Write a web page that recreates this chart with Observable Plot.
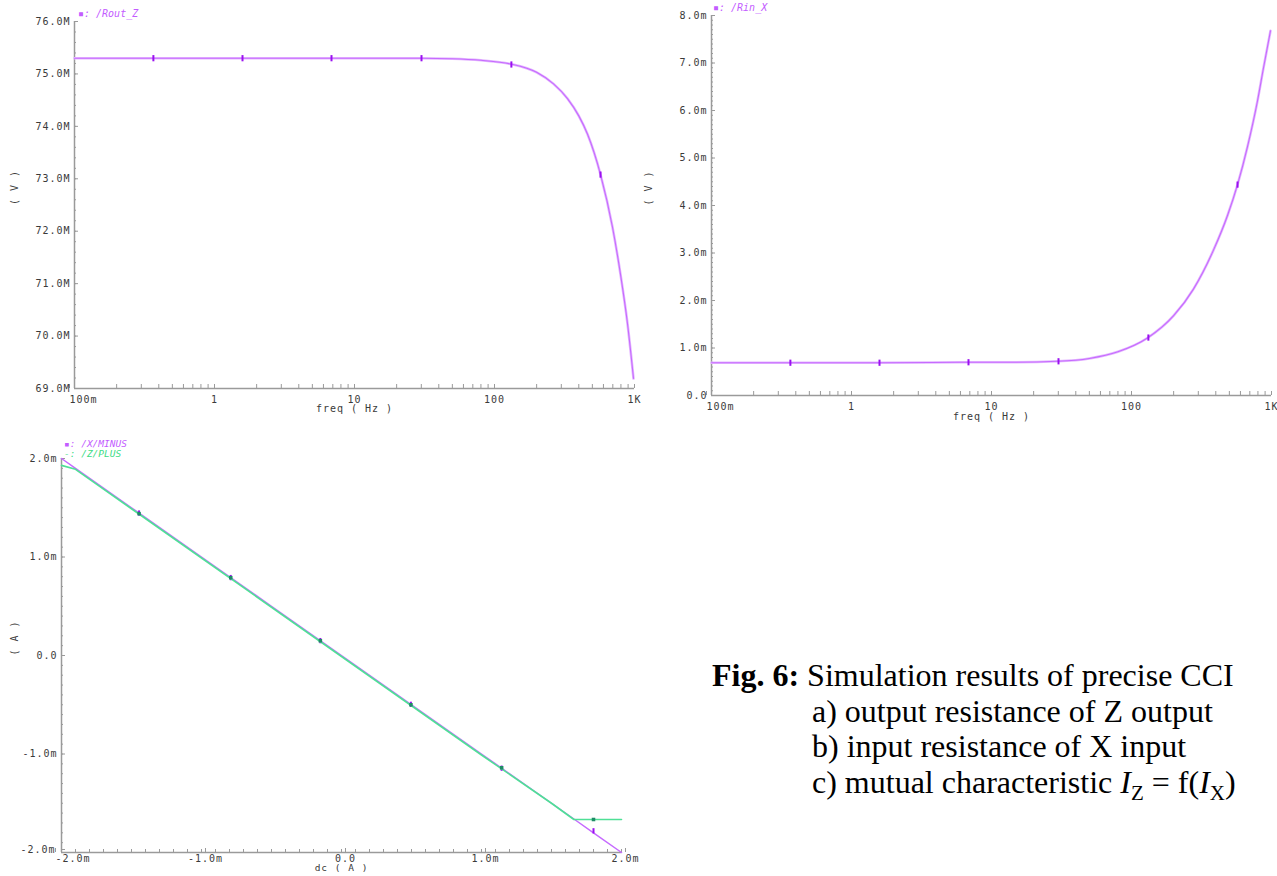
<!DOCTYPE html>
<html><head><meta charset="utf-8">
<script src="https://cdn.jsdelivr.net/npm/d3@7"></script>
<script src="https://cdn.jsdelivr.net/npm/@observablehq/plot@0.6"></script>
<style>
html,body{margin:0;padding:0;background:#fff;}
body{width:1277px;height:876px;position:relative;overflow:hidden;}
.panel{position:absolute;}
.lg{position:absolute;font-family:"DejaVu Sans Mono",monospace;font-size:10px;font-style:oblique;white-space:pre;line-height:10px;}
.cap{position:absolute;font-family:"Liberation Serif","Times New Roman",serif;font-size:32px;line-height:36px;color:#000;white-space:pre;}
.sub{font-size:21px;position:relative;top:7px;font-style:normal;}
</style></head><body>
<div id="a" class="panel" style="left:0;top:0"></div>
<div id="b" class="panel" style="left:640px;top:0"></div>
<div id="c" class="panel" style="left:0;top:430px"></div>
<div class="lg" style="left:78px;top:9px;color:#c35cff">▪: /Rout_Z</div>
<div class="lg" style="left:713px;top:3px;color:#c35cff">▪: /Rin_X</div>
<div class="lg" style="left:64px;top:439px;color:#c35cff;font-size:9.5px">▪: /X/MINUS</div>
<div class="lg" style="left:64px;top:449px;color:#3ddc84;font-size:9.5px">-: /Z/PLUS</div>
<div class="cap" style="left:712px;top:657px"><b>Fig. 6:</b> Simulation results of precise CCI</div>
<div class="cap" style="left:812px;top:693px">a) output resistance of Z output</div>
<div class="cap" style="left:812px;top:728px">b) input resistance of X input</div>
<div class="cap" style="left:812px;top:764px">c) mutual characteristic <i>I</i><span class="sub">Z</span> = f(<i>I</i><span class="sub">X</span>)</div>
<script>
// ---------- data ----------
const freqTicks = [0.1, 1, 10, 100, 1000];
const freqTickLabels = ["100m", "1", "10", "100", "1K"];

const routTicks = [69, 70, 71, 72, 73, 74, 75, 76];
const routTickLabels = ["69.0M", "70.0M", "71.0M", "72.0M", "73.0M", "74.0M", "75.0M", "76.0M"];
const routFreq = [0.1, 0.366, 1.585, 6.85, 15, 29.6, 50, 80, 130, 200, 264, 332, 400, 462, 572, 696, 794, 891, 984];
const routZ    = [75.30, 75.30, 75.30, 75.30, 75.30, 75.30, 75.29, 75.26, 75.19, 75.03, 74.81, 74.53, 74.20, 73.85, 73.08, 72.08, 71.18, 70.24, 69.19];
const routMarkFreq = [0.366, 1.585, 6.85, 30.1, 132, 572];
const routMarkVal  = [75.30, 75.30, 75.30, 75.30, 75.18, 73.08];

const rinTicks = [0, 1, 2, 3, 4, 5, 6, 7, 8];
const rinTickLabels = ["0.0", "1.0m", "2.0m", "3.0m", "4.0m", "5.0m", "6.0m", "7.0m", "8.0m"];
const rinFreq = [0.1, 0.366, 1.585, 6.85, 15, 29.6, 50, 80, 130, 200, 277, 385, 485, 572, 674, 794, 877, 984];
const rinX    = [0.69, 0.69, 0.69, 0.70, 0.70, 0.72, 0.78, 0.92, 1.21, 1.68, 2.24, 3.06, 3.79, 4.44, 5.24, 6.20, 6.90, 7.68];
const rinMarkFreq = [0.366, 1.585, 6.85, 30.1, 132, 572];
const rinMarkVal  = [0.69, 0.69, 0.70, 0.72, 1.22, 4.44];

const dcTicks = [-2, -1, 0, 1, 2];
const dcTickLabels = ["-2.0m", "-1.0m", "0.0", "1.0m", "2.0m"];
const dc      = [-2, -1.9, -1.5, -1, -0.5, 0, 0.5, 1, 1.5, 1.66, 1.8, 2];
const xMinus  = [2, 1.9, 1.5, 1.0, 0.5, 0, -0.5, -1.0, -1.5, -1.66, -1.8, -2];
const zPlus   = [1.93, 1.89, 1.49, 0.99, 0.49, -0.01, -0.51, -1.01, -1.5, -1.665, -1.665, -1.665];
const dcMark       = [-1.446, -0.791, -0.151, 0.496, 1.144, 1.80];
const xMinusMark   = [1.446, 0.791, 0.151, -0.496, -1.144, -1.78];
const zPlusMark    = [1.44, 0.79, 0.15, -0.50, -1.14, -1.665];

// ---------- helpers ----------
const AX = "#9a9a9a", TXT = "#3a3a3a";
const PURPLE = "#c66aff", PURPLE_L = "#e4b8ff", PURPLE_D = "#9a10f0";
const GREEN = "#4fe096", GREEN_D = "#1f8c66";
const vtick = {draw(ctx, size) { const h = Math.sqrt(size); ctx.rect(-1, -h / 2, 2, h); }};
const sq = {draw(ctx, size) { const h = Math.sqrt(size); ctx.rect(-h / 2, -h / 2, h, h); }};
const style = {fontFamily: "'DejaVu Sans Mono', monospace", fontSize: "10px", letterSpacing: "1px", color: TXT, background: "transparent", overflow: "visible"};

const logMinor = [];
for (const dec of [0.1, 1, 10, 100]) for (let k = 2; k <= 9; k++) logMinor.push(+(dec * k).toPrecision(3));
function linMinor(lo, hi, step) { const r = []; for (let v = lo; v <= hi + 1e-9; v += step) r.push(+v.toFixed(4)); return r; }
const lab = (ticks, labels) => { const m = new Map(ticks.map((t, i) => [t, labels[i]])); return d => m.get(d) ?? ""; };
const zip = (xs, ys) => xs.map((x, i) => ({x, y: ys[i]}));

function freqAxes(yTicks, yLabels, yMinor, xLabelDy) {
  return [
    Plot.axisX({ticks: logMinor, tickSize: -4, tickFormat: () => "", stroke: AX, label: null}),
    Plot.axisX({ticks: freqTicks.slice(1), tickSize: -4, tickPadding: 11, tickFormat: lab(freqTicks, freqTickLabels), stroke: AX, fill: TXT, label: null}),
    Plot.axisX({ticks: freqTicks.slice(0, 1), tickSize: -4, tickPadding: 11, textAnchor: "start", dx: -5, tickFormat: lab(freqTicks, freqTickLabels), stroke: AX, fill: TXT, label: null}),
    Plot.axisY({ticks: yMinor, tickSize: -2, tickFormat: () => "", stroke: AX, label: null}),
    Plot.axisY({ticks: yTicks, tickSize: -4, tickPadding: 8, tickFormat: lab(yTicks, yLabels), stroke: AX, fill: TXT, label: null}),
    Plot.text(["freq ( Hz )"], {frameAnchor: "bottom", dy: xLabelDy, fill: TXT}),
  ];
}

// ---------- a) Rout_Z ----------
const routData = zip(routFreq, routZ);
const routMarks = zip(routMarkFreq, routMarkVal);
document.getElementById("a").append(Plot.plot({
  width: 650, height: 420,
  marginLeft: 74, marginRight: 16, marginTop: 21, marginBottom: 32,
  style,
  x: {type: "log", domain: [0.1, 1000]},
  y: {domain: [69, 76]},
  marks: [
    ...freqAxes(routTicks, routTickLabels, linMinor(69, 76, 0.2), 23),
    Plot.ruleX([0.1], {stroke: AX, strokeWidth: 1.5}),
    Plot.ruleY([69], {stroke: AX, strokeWidth: 1.5}),
    Plot.text(["( V )"], {frameAnchor: "left", dx: -60, rotate: -90, fill: TXT}),
    Plot.line(routData, {x: "x", y: "y", stroke: PURPLE_L, strokeWidth: 2.6, curve: "monotone-x"}),
    Plot.line(routData, {x: "x", y: "y", stroke: PURPLE, strokeWidth: 1.1, curve: "monotone-x"}),
    Plot.dot(routMarks, {x: "x", y: "y", symbol: vtick, r: 3.5, fill: PURPLE_D, stroke: null}),
  ]
}));

// ---------- b) Rin_X ----------
const rinData = zip(rinFreq, rinX);
const rinMarks = zip(rinMarkFreq, rinMarkVal);
document.getElementById("b").append(Plot.plot({
  width: 637, height: 425,
  marginLeft: 71, marginRight: 6, marginTop: 15, marginBottom: 30,
  style,
  x: {type: "log", domain: [0.1, 1000]},
  y: {domain: [0, 8]},
  marks: [
    ...freqAxes(rinTicks, rinTickLabels, linMinor(0, 8, 0.1), 24),
    Plot.ruleX([0.1], {stroke: AX, strokeWidth: 1.5}),
    Plot.ruleY([0], {stroke: AX, strokeWidth: 1.5}),
    Plot.text(["( V )"], {frameAnchor: "left", dx: -63, rotate: -90, fill: TXT}),
    Plot.line(rinData, {x: "x", y: "y", stroke: PURPLE_L, strokeWidth: 2.6, curve: "monotone-x"}),
    Plot.line(rinData, {x: "x", y: "y", stroke: PURPLE, strokeWidth: 1.1, curve: "monotone-x"}),
    Plot.dot(rinMarks, {x: "x", y: "y", symbol: vtick, r: 3.5, fill: PURPLE_D, stroke: null}),
  ]
}));

// ---------- c) X/MINUS, Z/PLUS ----------
document.getElementById("c").append(Plot.plot({
  width: 650, height: 446,
  marginLeft: 61, marginRight: 29, marginTop: 28, marginBottom: 24,
  style,
  x: {domain: [-2, 2]},
  y: {domain: [-2, 2]},
  marks: [
    Plot.axisX({ticks: linMinor(-2, 2, 0.1), tickSize: -3, tickFormat: () => "", stroke: AX, label: null}),
    Plot.axisX({ticks: dcTicks.slice(1), tickSize: -4, tickPadding: 6, dx: 4, tickFormat: lab(dcTicks, dcTickLabels), stroke: AX, fill: TXT, label: null}),
    Plot.axisX({ticks: dcTicks.slice(0, 1), tickSize: -4, tickPadding: 6, textAnchor: "start", dx: -6, tickFormat: lab(dcTicks, dcTickLabels), stroke: AX, fill: TXT, label: null}),
    Plot.axisY({ticks: linMinor(-2, 2, 0.1), tickSize: -2, tickFormat: () => "", stroke: AX, label: null}),
    Plot.axisY({ticks: dcTicks.slice(1), tickSize: -4, tickPadding: 8, tickFormat: lab(dcTicks, dcTickLabels), stroke: AX, fill: TXT, label: null}),
    Plot.axisY({ticks: dcTicks.slice(0, 1), tickSize: -4, tickPadding: 10, dy: -3, tickFormat: lab(dcTicks, dcTickLabels), stroke: AX, fill: TXT, label: null}),
    Plot.ruleX([-2], {stroke: AX, strokeWidth: 1.5}),
    Plot.ruleY([-2], {stroke: AX, strokeWidth: 1.5}),
    Plot.text(["dc ( A )"], {frameAnchor: "bottom", dy: 18, fill: TXT, fontSize: 9.5}),
    Plot.text(["( A )"], {frameAnchor: "left", dx: -47, rotate: -90, fill: TXT}),
    Plot.line(zip(dc, xMinus), {x: "x", y: "y", stroke: PURPLE, strokeWidth: 1.5}),
    Plot.dot(zip(dcMark, xMinusMark), {x: "x", y: "y", symbol: vtick, r: 3, fill: PURPLE_D, stroke: null}),
    Plot.line(zip(dc, zPlus), {x: "x", y: "y", stroke: GREEN, strokeWidth: 1.6}),
    Plot.dot(zip(dcMark, zPlusMark), {x: "x", y: "y", symbol: sq, r: 2, fill: GREEN_D, stroke: null}),
  ]
}));
</script>
</body></html>
